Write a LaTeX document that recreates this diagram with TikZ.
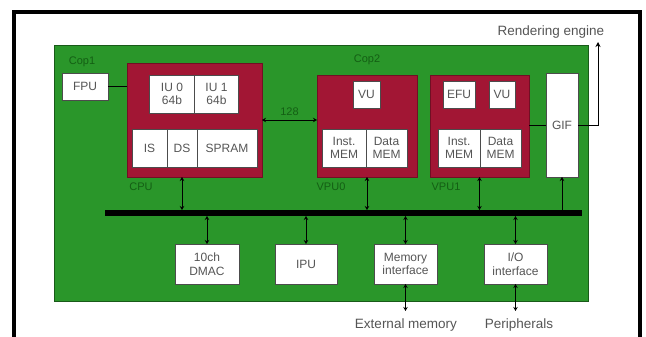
\documentclass[tikz,border=0pt]{standalone}
\usepackage{fontspec}
\setmainfont{Liberation Sans}
\usetikzlibrary{arrows.meta, positioning}

\definecolor{boardgreen}{RGB}{42,150,42}
\definecolor{unitred}{RGB}{162,22,52}
\definecolor{labelgreen}{RGB}{20,95,20}
\definecolor{textgray}{RGB}{85,85,85}

\begin{document}
\begin{tikzpicture}[
        x=1pt, y=-1pt,
        font=\fontsize{12}{13.5}\selectfont,
        cell/.style = {rectangle, draw=black!70, fill=white, line width=0.6pt, inner sep=0pt, outer sep=0pt, align=center, text=textgray, minimum height=38pt},
        unit/.style = {rectangle, fill=unitred, draw=unitred!70!black, line width=0.6pt, inner sep=0pt, outer sep=0pt},
        tag/.style = {font=\fontsize{11}{12}\selectfont, text=labelgreen, inner sep=0pt},
        ext/.style = {font=\fontsize{13.5}{14}\selectfont, text=textgray, inner sep=0pt},
        link/.style = {draw, line width=0.8pt, {Stealth[length=4pt,width=4.5pt]}-{Stealth[length=4pt,width=4.5pt]}},
        wire/.style = {draw, line width=0.8pt}
    ]

    \useasboundingbox (0,0) rectangle (646,337);

    % Frame and board
    \draw[line width=4.5pt] (14,337) -- (14,12) -- (640,12) -- (640,337);
    \node [rectangle, fill=boardgreen, draw=boardgreen!60!black, line width=0.6pt, inner sep=0pt, outer sep=0pt, minimum width=534pt, minimum height=256pt] (board) at (321,173) {};

    % Cop1
    \node [cell, minimum width=46pt, minimum height=27pt] (fpu) at (85,86.5) {FPU};
    \node [tag] (cop1) at (82,62) {Cop1};

    % CPU
    \node [unit, minimum width=135pt, minimum height=114pt] (cpu) at (194.5,120) {};
    \node [cell, minimum width=45pt] (iu0) at (172,94) {IU 0\\64b};
    \node [cell, minimum width=44pt, right=0pt of iu0] (iu1) {IU 1\\64b};
    \node [cell, minimum width=35pt] (is) at (149.5,148) {IS};
    \node [cell, minimum width=30pt, right=0pt of is] (ds) {DS};
    \node [cell, minimum width=60pt, right=0pt of ds] (spram) {SPRAM};
    \node [tag] (cpulbl) at (141,187) {CPU};

    % VPU0
    \node [tag] (cop2) at (367,60) {Cop2};
    \node [unit, minimum width=100pt, minimum height=102pt] (vpu0) at (367,126) {};
    \node [cell, minimum width=27pt, minimum height=27pt] (vu0) at (366.5,94.5) {VU};
    \node [cell, minimum width=44pt] (imem0) at (344,148) {Inst.\\MEM};
    \node [cell, minimum width=41pt, right=0pt of imem0] (dmem0) {Data\\MEM};
    \node [tag] (vpu0lbl) at (331,187) {VPU0};

    % VPU1
    \node [unit, minimum width=99pt, minimum height=102pt] (vpu1) at (479.5,126) {};
    \node [cell, minimum width=32pt, minimum height=27pt] (efu) at (459,94.5) {EFU};
    \node [cell, minimum width=26pt, minimum height=27pt] (vu1) at (502,94.5) {VU};
    \node [cell, minimum width=42pt] (imem1) at (459,148) {Inst.\\MEM};
    \node [cell, minimum width=41pt, right=0pt of imem1] (dmem1) {Data\\MEM};
    \node [tag] (vpu1lbl) at (446,187) {VPU1};

    % GIF
    \node [cell, minimum width=32pt, minimum height=104pt] (gif) at (562,125) {GIF};
    \node [ext] (render) at (551,32) {Rendering engine};
    \coordinate (renderout) at (598,42);

    % Bus and peripherals
    \node [rectangle, fill=black, inner sep=0pt, outer sep=0pt, minimum width=477pt, minimum height=6pt] (bus) at (343.5,213) {};
    \node [cell, minimum width=64pt, minimum height=40pt] (dmac) at (207,264) {10ch\\DMAC};
    \node [cell, minimum width=62pt, minimum height=40pt] (ipu) at (306,264) {IPU};
    \node [cell, minimum width=63pt, minimum height=40pt] (memif) at (405.5,264) {Memory\\interface};
    \node [cell, minimum width=63pt, minimum height=40pt] (ioif) at (515.5,264) {I/O\\interface};
    \node [ext] (extmem) at (406,325) {External memory};
    \node [ext] (periph) at (519,325) {Peripherals};

    % Edges
    \path [wire] (fpu.east) -- (fpu.east -| cpu.west);
    \path [link] (cpu.east) -- node[tag, above=4pt] {128} (cpu.east -| vpu0.west);
    \path [wire] (gif.west -| vpu1.east) -- (gif.west);
    \path [wire, -{Stealth[length=5pt,width=5pt]}] (gif.east) -| (renderout);

    \path [link] ([xshift=-12.5pt]cpu.south) -- ([xshift=-12.5pt]cpu.south |- bus.north);
    \path [link] (vpu0.south) -- (vpu0.south |- bus.north);
    \path [link] (vpu1.south) -- (vpu1.south |- bus.north);
    \path [wire, -{Stealth[length=4pt,width=4.5pt]}] (gif.south |- bus.north) -- (gif.south);

    \path [link] (dmac.north |- bus.south) -- (dmac.north);
    \path [link] (ipu.north |- bus.south) -- (ipu.north);
    \path [link] (memif.north |- bus.south) -- (memif.north);
    \path [link] (ioif.north |- bus.south) -- (ioif.north);
    \path [link] (memif.south) -- ++(0,27);
    \path [link] (ioif.south) -- ++(0,27);

\end{tikzpicture}
\end{document}
